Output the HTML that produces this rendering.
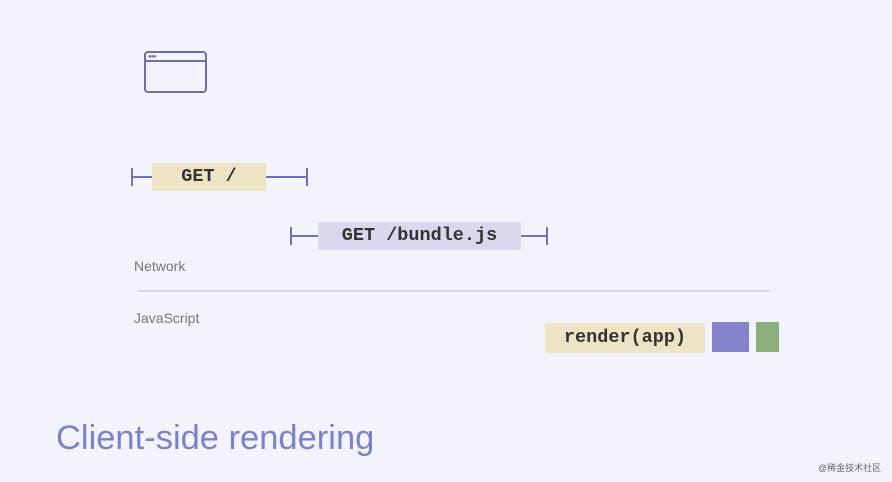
<!DOCTYPE html>
<html><head><meta charset="utf-8"><style>
body{margin:0;width:892px;height:482px;background:#f3f3fb;position:relative;overflow:hidden;font-family:"Liberation Sans",sans-serif}
.a{position:absolute}
.box{position:absolute;font-family:"Liberation Mono",monospace;font-weight:bold;color:#333;font-size:18.5px;text-align:center}
.l{position:absolute;height:2px;background:#6e72b4}
.v{position:absolute;width:2px;height:18px;background:#6e72b4}
.lbl{position:absolute;font-size:14px;color:#777}
</style></head><body>
<div class="a" style="left:144px;top:51px;width:63px;height:42px;border:2px solid #6f6fa8;border-radius:4px;box-sizing:border-box"></div>
<div class="a" style="left:145px;top:60px;width:62px;height:2px;background:#6f6fa8"></div>
<div class="a" style="left:148px;top:54px;font-size:6px;color:#6f6fa8;letter-spacing:-1px">●●●</div>
<div class="v" style="left:131px;top:168px"></div><div class="l" style="left:131px;top:176px;width:176px"></div><div class="v" style="left:306px;top:168px"></div>
<div class="box" style="left:152px;top:163px;width:114px;height:28px;line-height:28px;background:#ece4c4">GET /</div>
<div class="v" style="left:290px;top:227px"></div><div class="l" style="left:290px;top:235px;width:258px"></div><div class="v" style="left:546px;top:227px"></div>
<div class="box" style="left:318px;top:222px;width:203px;height:28px;line-height:28px;background:#dcd6ee">GET /bundle.js</div>
<div class="lbl" style="left:134px;top:258px">Network</div>
<div class="a" style="left:138px;top:290px;width:632px;height:2px;background:#d6d6e6"></div>
<div class="lbl" style="left:134px;top:310px">JavaScript</div>
<div class="box" style="left:545px;top:323px;width:160px;height:30px;line-height:30px;background:#ece4c4">render(app)</div>
<div class="a" style="left:712px;top:322px;width:37px;height:30px;background:#8782cc"></div>
<div class="a" style="left:756px;top:322px;width:23px;height:30px;background:#8cae7a"></div>
<div class="a" style="left:56px;top:419px;font-size:34.5px;color:#7c82c8">Client-side rendering</div>
<div class="a" style="left:818px;top:461px;font-size:9px;color:#666;font-family:'Liberation Sans','Noto Sans CJK SC',sans-serif">@稀金技术社区</div>
</body></html>
